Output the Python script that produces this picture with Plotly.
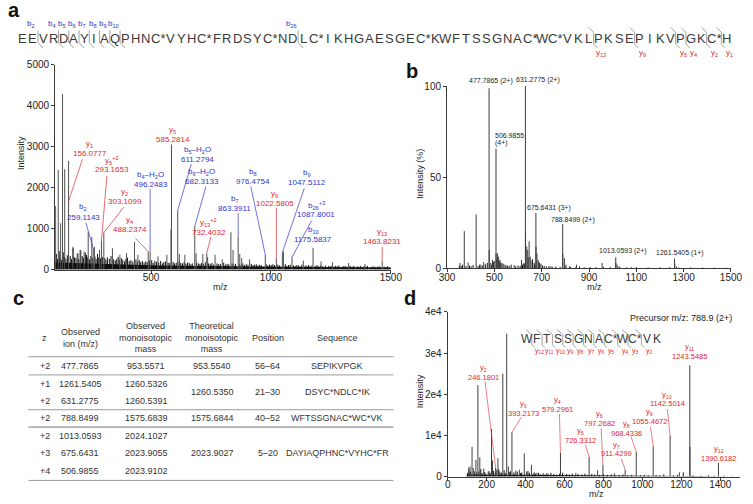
import plotly.graph_objects as go

W, H = 753, 504
FONT = "Liberation Sans, Arial, Helvetica, sans-serif"
RED = "#e3262d"
BLUE = "#3333cc"
INK = "#333333"
AXC = "#3a3a3a"
MARK = "#8c8c8c"

# ======================= DATA =======================
protein_seq = "EEVRDAYIAQPHNC*VYHC*FRDSYC*NDLC*IKHGAESGEC*KWFTSSGNAC*WC*VKLPKSEPIKVPGKC*H"
b_sites = [2, 4, 5, 6, 7, 8, 9, 10, 26]
y_sites = [13, 9, 5, 4, 2, 1]

ion_a_names = ["y<sub>1</sub>", "b<sub>2</sub>", "y<sub>5</sub><sup>+2</sup>", "y<sub>2</sub>",
               "y<sub>4</sub>", "b<sub>4</sub>–H<sub>2</sub>O", "y<sub>5</sub>",
               "b<sub>5</sub>–H<sub>2</sub>O", "b<sub>6</sub>–H<sub>2</sub>O",
               "y<sub>13</sub><sup>+2</sup>", "b<sub>7</sub>", "b<sub>8</sub>", "y<sub>9</sub>",
               "b<sub>9</sub>", "b<sub>26</sub><sup>+3</sup>", "b<sub>10</sub>", "y<sub>13</sub>"]
ion_a_mz = [156.0777, 259.1143, 293.1653, 303.1099, 488.2374, 496.2483, 585.2814, 611.2794,
            682.3133, 732.4032, 863.3911, 976.4754, 1022.5805, 1047.5112, 1087.8001, 1175.5837,
            1463.8231]
ion_a_int = [2650, 520, 700, 900, 440, 430, 3050, 1445, 1055, 400, 790, 360, 280, 420, 300, 530, 215]

peaks_a_mz = [102, 113, 123, 131, 140, 174, 192, 204, 221, 238, 253, 264, 285, 339, 370, 398,
              431, 445, 529, 566, 583, 618, 641, 688, 716, 736, 767, 797, 833, 842, 870, 878,
              911, 1052, 1135, 1209, 1257, 1324, 1392]
peaks_a_int = [1550, 2430, 1130, 4280, 2450, 555, 400, 480, 440, 910, 790, 550, 480, 520, 360, 400,
               675, 360, 320, 360, 980, 380, 360, 400, 380, 300, 360, 250, 910, 480, 380, 280,
               250, 440, 220, 200, 175, 160, 135]

noise_a_mz = [105, 110, 117, 121, 126, 134, 139, 145, 151, 163, 168, 175, 181, 187, 195, 199, 207,
              213, 218, 226, 231, 236, 243, 249, 255, 266, 271, 277, 282, 289, 297, 307, 312, 318,
              326, 333, 344, 351, 357, 363, 369, 376, 382, 389, 395, 402, 409, 416, 424, 437, 443,
              451, 457, 464, 471, 478, 484, 493, 503, 509, 516, 523, 532, 540, 547, 553, 560, 571,
              578, 592, 598, 605, 617, 624, 631, 638, 645, 652, 659, 666, 672, 690, 697, 704, 711,
              719, 726, 740, 747, 754, 761, 775, 782, 789, 803, 810, 817, 824, 838, 845, 852, 869,
              876, 883, 890, 897, 904, 918, 925, 932, 939, 946, 953, 960, 980, 987, 994, 1001, 1008,
              1015, 1029, 1036, 1060, 1066, 1073, 1080, 1094, 1101, 1108, 1115, 1122, 1129, 1143,
              1150, 1157, 1164, 1171, 1185, 1192, 1199, 1206, 1213, 1220, 1227, 1241, 1248, 1255,
              1262, 1269, 1276, 1283, 1297, 1304, 1311, 1318, 1325, 1332, 1339, 1346, 1360, 1367,
              1374, 1381, 1388, 1395, 1402, 1416, 1423, 1430, 1437, 1444, 1451, 1458, 1472, 1479,
              1486, 1493]
noise_a_int = [380, 260, 450, 300, 240, 420, 310, 270, 350, 330, 260, 520, 300, 280, 390, 250, 470,
               330, 280, 410, 360, 300, 250, 330, 280, 320, 260, 380, 300, 270, 310, 280, 240, 300,
               260, 330, 250, 220, 260, 310, 230, 280, 240, 200, 260, 290, 210, 230, 200, 250, 190,
               230, 180, 210, 170, 200, 180, 220, 230, 160, 210, 190, 170, 210, 150, 180, 200, 170,
               160, 190, 150, 170, 200, 160, 150, 180, 140, 170, 160, 130, 150, 170, 150, 140, 160,
               130, 180, 150, 140, 160, 120, 150, 130, 140, 170, 120, 140, 130, 150, 120, 140, 130,
               120, 150, 110, 130, 120, 140, 110, 120, 130, 100, 120, 110, 130, 100, 120, 110, 130,
               110, 120, 100, 130, 90, 110, 120, 100, 90, 110, 100, 80, 120, 100,
               90, 110, 80, 100, 90, 110, 80, 100, 90, 70, 100, 90, 80, 100,
               70, 90, 80, 100, 70, 90, 80, 70, 90, 80, 70, 90, 80, 70,
               90, 60, 80, 70, 90, 60, 70, 80, 60, 70, 80, 60, 70, 60,
               80, 60]
floor_a_mz = [100, 150, 200, 250, 300, 350, 400, 450, 500, 550, 600, 650, 700, 750, 800, 850, 900,
              950, 1000, 1050, 1100, 1150, 1200, 1250, 1300, 1350, 1400, 1450, 1500]
floor_a_int = [170, 160, 150, 140, 135, 125, 120, 110, 105, 100, 95, 92, 90, 86, 82, 80, 78,
               75, 72, 70, 68, 65, 62, 60, 58, 55, 52, 50, 48]

ms1_lab_mz = [477.7865, 631.2775, 506.9855, 675.6431, 788.8499, 1013.0593, 1261.5405]
ms1_lab_z = [2, 2, 4, 3, 2, 2, 1]
ms1_lab_pct = [98.8, 100.0, 65.7, 30.4, 24.3, 6.0, 5.4]
ms1_mz = [355, 373, 389, 423, 443, 455, 478.3, 485, 492, 507.3, 513, 518, 524, 532, 550, 584,
          615, 624, 631.8, 637, 641, 647, 652, 659, 676.0, 680, 685, 691, 711, 739, 789.3, 796,
          803, 817, 847, 955.5, 1013.6, 1019, 1027, 1078, 1262.5, 1270]
ms1_pct = [2.9, 20.4, 3.2, 29.5, 2.0, 3.4, 10.0, 2.9, 4.6, 8.2, 8.2, 6.4, 4.6, 2.9, 1.4, 1.8,
           4.6, 2.9, 20.7, 12.0, 10.0, 14.8, 6.4, 4.3, 12.0, 8.2, 4.6, 2.9, 1.4, 1.1, 8.0, 5.5,
           2.0, 1.1, 2.0, 2.9, 3.0, 2.0, 1.0, 0.7, 2.5, 1.0]
noise_b_mz = [352, 361, 366, 380, 395, 402, 410, 431, 438, 449, 462, 470, 489, 495, 499, 511, 521,
              527, 537, 545, 556, 563, 571, 590, 600, 609, 619, 628, 643, 661, 668, 671, 688, 697,
              704, 720, 731, 745, 760, 778, 800, 822, 845, 860, 880, 905, 930, 960, 990, 1030,
              1060, 1100, 1150, 1200, 1240, 1280, 1330, 1380, 1430, 1480]
noise_b_pct = [1.5, 1.0, 2.0, 1.2, 1.5, 1.0, 1.8, 1.2, 2.0, 1.5, 2.2, 3.0, 2.0, 3.5, 4.0, 5.0, 4.0,
               3.0, 2.5, 2.0, 1.5, 1.2, 2.0, 1.0, 1.5, 1.2, 2.0, 2.5, 6.0, 5.0, 3.0, 2.0, 3.5, 2.5,
               1.5, 1.0, 1.2, 0.8, 1.0, 0.8, 0.9, 0.7, 0.8, 1.0, 0.6, 0.7, 0.6, 0.8, 0.6, 0.8,
               0.5, 0.6, 0.5, 0.5, 0.6, 0.4, 0.5, 0.4, 0.4, 0.3]

tab_header = ["z", "Observed<br>ion (m/z)", "Observed<br>monoisotopic<br>mass",
              "Theoretical<br>monoisotopic<br>mass", "Position", "Sequence"]
tab_z = ["+2", "+1", "+2", "+2", "+2", "+3", "+4"]
tab_obs_ion = ["477.7865", "1261.5405", "631.2775", "788.8499", "1013.0593", "675.6431", "506.9855"]
tab_obs_mono = ["953.5571", "1260.5326", "1260.5391", "1575.6839", "2024.1027", "2023.9055", "2023.9102"]
tab_theo = ["953.5540", "1260.5350", "1575.6844", "2023.9027"]
tab_pos = ["56–64", "21–30", "40–52", "5–20"]
tab_seq = ["SEPIKVPGK", "DSYC*NDLC*IK", "WFTSSGNAC*WC*VK", "DAYIAQPHNC*VYHC*FR"]
tab_groups = [[0], [1, 2], [3], [4, 5, 6]]

peptide_d = "WFTSSGNAC*WC*VK"
ion_d_names = ["y<sub>2</sub>", "y<sub>3</sub>", "y<sub>4</sub>", "y<sub>5</sub>", "y<sub>6</sub>",
               "y<sub>7</sub>", "y<sub>8</sub>", "y<sub>9</sub>", "y<sub>10</sub>", "y<sub>11</sub>",
               "y<sub>12</sub>"]
ion_d_mz = [246.1801, 393.2173, 579.2961, 726.3312, 797.2682, 911.4299, 968.4336, 1055.4672,
            1142.5014, 1243.5485, 1390.6182]
ion_d_int = [2200, 5610, 5770, 4800, 2850, 1700, 6000, 7350, 9960, 27000, 3300]
ms2_mz = [108, 115, 125, 131.5, 145, 155, 165, 185, 208, 225, 230, 251.5, 258, 283, 303, 311.5,
          330, 350, 368, 405, 430, 458, 508, 658, 770, 856, 1190, 1244.5]
ms2_int = [2200, 2450, 7190, 2060, 4030, 22200, 4660, 1900, 1200, 11550, 3900, 1660, 4430, 24970,
           34700, 2450, 10750, 1430, 1660, 1200, 2850, 900, 800, 900, 1500, 800, 1000, 7200]
noise_d_mz = [102, 110, 118, 136, 149, 160, 170, 176, 190, 196, 212, 218, 236, 245, 262, 268, 276,
              290, 296, 316, 322, 340, 346, 357, 374, 380, 395, 412, 420, 438, 444, 450, 466, 475,
              490, 500, 515, 530, 545, 560, 575, 590, 610, 625, 640, 655, 670, 690, 705, 720, 740,
              755, 780, 800, 820, 840, 860, 880, 900, 925, 945, 990, 1010, 1030, 1070, 1090, 1110,
              1160, 1180, 1210, 1260, 1300, 1340, 1370, 1420, 1460]
noise_d_int = [900, 1500, 1100, 1300, 1000, 1200, 1800, 900, 1100, 700, 1300, 900, 1400, 1000, 1800,
               1200, 900, 1500, 800, 1100, 1300, 1000, 600, 1200, 800, 1000, 700, 1300, 900, 600,
               1000, 700, 900, 600, 800, 500, 700, 900, 600, 500, 700, 900, 600, 500, 700, 400,
               600, 500, 700, 400, 600, 500, 400, 500, 400, 500, 300, 400, 500, 300, 400, 300, 400,
               300, 400, 300, 500, 300, 400, 1000, 300, 200, 300, 200, 200, 150]
floor_d_mz = [95, 100, 200, 300, 400, 500, 600, 700, 800, 900, 1000, 1100, 1200, 1300, 1400, 1450]
floor_d_int = [0, 500, 450, 400, 350, 320, 280, 240, 200, 170, 150, 130, 110, 100, 80, 0]
precursor_text = "Precursor m/z: 788.9 (2+)"


def px(x):
    return x / W


def py(y):
    return 1 - y / H


shapes = []
ann = []


def seg(x0, y0, x1, y1, color=MARK, w=0.8, ref=("paper", "paper")):
    if ref[0] == "paper":
        x0, x1 = px(x0), px(x1)
    if ref[1] == "paper":
        y0, y1 = py(y0), py(y1)
    shapes.append(dict(type="line", xref=ref[0], yref=ref[1], x0=x0, y0=y0, x1=x1, y1=y1,
                       line=dict(color=color, width=w), layer="above"))


def text(x, y, s, size, color=INK, ref=("paper", "paper"), xanchor="center",
         yanchor="middle", yshift=0, angle=0):
    if ref[0] == "paper":
        x = px(x)
    if ref[1] == "paper":
        y = py(y)
    ann.append(dict(x=x, y=y, xref=ref[0], yref=ref[1], text=s, showarrow=False,
                    xanchor=xanchor, yanchor=yanchor, yshift=yshift, textangle=angle,
                    borderpad=0, font=dict(family=FONT, size=size, color=color)))


def residues(seq):
    out, i = [], 0
    while i < len(seq):
        if i + 1 < len(seq) and seq[i + 1] == "*":
            out.append(seq[i:i + 2])
            i += 2
        else:
            out.append(seq[i])
            i += 1
    return out


def residue_positions(res, x0, unit, wide):
    centers, bounds, pos = [], [], 0.0
    for r in res:
        w = wide if r.endswith("*") else 1.0
        centers.append(x0 + (pos + w / 2 - 0.5) * unit)
        pos += w
        bounds.append(x0 + (pos - 0.5) * unit)
    return centers, bounds


def sticks(mz, inten):
    xs, ys = [], []
    for m, v in zip(mz, inten):
        xs += [m, m, None]
        ys += [0, v, None]
    return xs, ys


def ion_color(name):
    return RED if name.startswith("y") else BLUE


fig = go.Figure()

# ======================= PANEL a =======================
fig.add_trace(go.Scatter(x=floor_a_mz, y=floor_a_int, mode="lines", fill="tozeroy",
                         fillcolor="#111111", line=dict(width=0, color="#111111"),
                         hoverinfo="skip", xaxis="x", yaxis="y"))
xs, ys = sticks(noise_a_mz, noise_a_int)
fig.add_trace(go.Scatter(x=xs, y=ys, mode="lines", line=dict(color="#111111", width=1),
                         hoverinfo="skip", xaxis="x", yaxis="y"))
xs, ys = sticks(peaks_a_mz + ion_a_mz, peaks_a_int + ion_a_int)
fig.add_trace(go.Scatter(x=xs, y=ys, mode="lines", line=dict(color="#505050", width=1),
                         hoverinfo="skip", xaxis="x", yaxis="y"))

lab_a = [
    (244, 2936, (214, 2690), 1670),
    (218, 1397, (228, 1143), None),
    (338, 2548, (316, 2286), None),
    (391, 1786, (387, 1524), None),
    (411, 1102, (435, 762), None),
    (499, 2183, (496.2, 1964), None),
    (590, 3290, None, None),
    (692, 2810, (668, 2579), None),
    (711, 2255, (729, 2024), None),
    (740, 1024, (749, 793), None),
    (850, 1600, (863.4, 1381), None),
    (925, 2255, (916, 2024), None),
    (1016, 1719, (1022.6, 1512), None),
    (1149, 2243, (1139, 1983), None),
    (1189, 1457, (1169, 1190), None),
    (1175.6, 840, None, None),
    (1463.8, 802, (1463.8, 555), None),
]
for name, mz, inten, (tx, ty, start, end_int) in zip(ion_a_names, ion_a_mz, ion_a_int, lab_a):
    c = ion_color(name)
    text(tx, ty, name, 8, c, ref=("x", "y"), yshift=4.8)
    text(tx, ty, f"{mz:.4f}", 8, c, ref=("x", "y"), yshift=-4.8)
    if start is not None:
        seg(start[0], start[1], mz, end_int if end_int else inten, color=c, w=0.7, ref=("x", "y"))

res_a = residues(protein_seq)
cen_a, bnd_a = residue_positions(res_a, 15, 10.54, 1.45)
for r, cx in zip(res_a, cen_a):
    text(cx, 33, r, 13, "#3a3a3a")
N = len(res_a)
for n in b_sites:
    b = bnd_a[n - 1]
    seg(b, 25, b, 37.5)
    seg(b, 37.5, b + 5, 43)
    text(b - 7, 18, f"b<sub>{n}</sub>", 8, BLUE)
for n in y_sites:
    b = bnd_a[N - n - 1]
    seg(b - 5, 22, b, 27)
    seg(b, 27, b, 39)
    seg(b, 39, b + 4, 43)
    text(b + 8, 48, f"y<sub>{n}</sub>", 8, RED)

# ======================= PANEL b =======================
xs, ys = sticks(noise_b_mz, noise_b_pct)
fig.add_trace(go.Scatter(x=xs, y=ys, mode="lines", line=dict(color="#111111", width=1),
                         hoverinfo="skip", xaxis="x2", yaxis="y2"))
xs, ys = sticks(ms1_mz + ms1_lab_mz, ms1_pct + ms1_lab_pct)
fig.add_trace(go.Scatter(x=xs, y=ys, mode="lines", line=dict(color="#3c3c3c", width=1),
                         hoverinfo="skip", xaxis="x2", yaxis="y2"))
lab_b = [(484, 100, "center", 5.3), (682.6, 100, "center", 5.8), (497.5, 70.9, "left", 0),
         (732, 33.2, "center", 0), (832.7, 26.5, "center", 0), (1043, 9.5, "center", 0),
         (1284.5, 8.2, "center", 0)]
for mz, z, (tx, ty, anc, sh) in zip(ms1_lab_mz, ms1_lab_z, lab_b):
    if z == 4:
        text(tx, ty, f"{mz:.4f}", 7, "#222", ref=("x2", "y2"), xanchor=anc, yshift=3.7)
        text(tx, ty, f"({z}+)", 7, "#222", ref=("x2", "y2"), xanchor=anc, yshift=-3.7)
    else:
        text(tx, ty, f"{mz:.4f} ({z}+)", 7, "#222", ref=("x2", "y2"), xanchor=anc, yshift=sh)

# ======================= PANEL c (table) =======================
col_x = [37.7, 74, 142, 210, 266.7, 338]
for cx, h in zip(col_x, tab_header):
    text(cx, 340, h, 9, INK)
row_y = [369 + i * 17.83 for i in range(len(tab_z))]
for i, yv in enumerate(row_y):
    text(col_x[0], yv, tab_z[i], 9, INK)
    text(col_x[1], yv, tab_obs_ion[i], 9, INK)
    text(col_x[2], yv, tab_obs_mono[i], 9, INK)
for g, rows in enumerate(tab_groups):
    yc = sum(row_y[r] for r in rows) / len(rows)
    text(col_x[3], yc, tab_theo[g], 9, INK)
    text(col_x[4], yc, tab_pos[g], 9, INK)
    text(col_x[5], yc, tab_seq[g], 9, INK)
seg(21, 359.3, 396, 359.3, color="#9a9a9a", w=1)
for g, rows in enumerate(tab_groups[:-1]):
    ysep = (row_y[rows[-1]] + row_y[rows[-1] + 1]) / 2
    seg(21, ysep, 396, ysep, color="#b0b0b0" if g == 2 else "#9a9a9a", w=1.6 if g == 2 else 1)
seg(21, row_y[-1] + 10, 396, row_y[-1] + 10, color="#9a9a9a", w=1)

# ======================= PANEL d =======================
fig.add_trace(go.Scatter(x=floor_d_mz, y=floor_d_int, mode="lines", fill="tozeroy",
                         fillcolor="#111111", line=dict(width=0, color="#111111"),
                         hoverinfo="skip", xaxis="x3", yaxis="y3"))
xs, ys = sticks(noise_d_mz, noise_d_int)
fig.add_trace(go.Scatter(x=xs, y=ys, mode="lines", line=dict(color="#111111", width=1),
                         hoverinfo="skip", xaxis="x3", yaxis="y3"))
xs, ys = sticks(ms2_mz + ion_d_mz, ms2_int + ion_d_int)
fig.add_trace(go.Scatter(x=xs, y=ys, mode="lines", line=dict(color="#404040", width=1),
                         hoverinfo="skip", xaxis="x3", yaxis="y3"))
lab_d = [
    (183, 25250, (191.5, 23100), (246.18, 2200)),
    (391.5, 16400, (378, 14400), (330, 10750)),
    (566.5, 17350, (574, 15200), None),
    (683, 9890, (708, 7700), None),
    (778, 13990, (788, 11700), None),
    (866.5, 6590, (891.5, 4300), None),
    (916.5, 11620, (941.5, 9700), None),
    (1036.5, 14510, (1041.5, 12100), None),
    (1128, 18780, (1128, 16400), None),
    (1241.5, 30300, None, None),
    (1391, 5600, None, None),
]
for name, mz, inten, (tx, ty, start, end) in zip(ion_d_names, ion_d_mz, ion_d_int, lab_d):
    text(tx, ty, name, 7.5, RED, ref=("x3", "y3"), yshift=4.6)
    text(tx, ty, f"{mz:.4f}", 7.5, RED, ref=("x3", "y3"), yshift=-4.6)
    if start is not None:
        ex, ey = end if end else (mz, inten)
        seg(start[0], start[1], ex, ey, color=RED, w=0.6, ref=("x3", "y3"))

res_d = residues(peptide_d)
cen_d, bnd_d = residue_positions(res_d, 532.7, 10.63, 1.3)
for r, cx in zip(res_d, cen_d):
    text(cx, 340.7, r, 12, "#3a3a3a")
Nd = len(res_d)
for k in range(1, Nd - 1):
    b = bnd_d[k - 1]
    n = Nd - k
    seg(b - 6, 331.5, b, 336.5)
    seg(b, 336.5, b, 347)
    seg(b, 347, b + 3, 350)
    text(b + 8, 353, f"y<sub>{n}</sub>", 7, RED)
text(745, 319.3, precursor_text, 9, "#222", xanchor="right")

# ======================= titles & panel letters =======================
text(14, 151, "Intensity", 9, "#222", angle=-90)
text(218.3, 287.5, "m/z", 9, "#222")
text(423, 172, "Intensity (%)", 9, "#222", angle=-90)
text(603, 287.5, "m/z", 9, "#222")
text(423, 395, "Intensity", 9, "#222", angle=-90)
text(605, 499.5, "m/z", 9, "#222")
text(6.5, 4, "<b>a</b>", 20, "#111")
text(415, 67, "<b>b</b>", 20, "#111")
text(10.5, 299.5, "<b>c</b>", 20, "#111")
text(413, 299.5, "<b>d</b>", 20, "#111")


def axis(**kw):
    d = dict(showgrid=False, zeroline=False, showline=True, linecolor=AXC, linewidth=1,
             ticks="outside", ticklen=3, tickwidth=1, tickcolor=AXC,
             tickfont=dict(family=FONT, size=10, color="#222"), fixedrange=True)
    d.update(kw)
    return d


fig.update_layout(
    width=W, height=H, autosize=False,
    margin=dict(l=0, r=0, t=0, b=0),
    paper_bgcolor="white", plot_bgcolor="rgba(0,0,0,0)",
    showlegend=False,
    xaxis=axis(domain=[48.4 / W, 393.3 / W], range=[100, 1500], tickvals=[500, 1000, 1500],
               anchor="y", ticklabelstandoff=-5),
    yaxis=axis(domain=[(H - 270) / H, (H - 60) / H], range=[0, 5000],
               tickvals=[0, 1000, 2000, 3000, 4000, 5000], anchor="x"),
    xaxis2=axis(domain=[451 / W, 742.7 / W], range=[300, 1500],
                tickvals=[300, 500, 700, 900, 1100, 1300, 1500], anchor="y2",
                ticklabelstandoff=-3),
    yaxis2=axis(domain=[(H - 268.7) / H, (H - 82) / H], range=[0, 100], tickvals=[0, 50, 100],
                anchor="x2"),
    xaxis3=axis(domain=[451.7 / W, 751.7 / W], range=[0, 1500],
                tickvals=[0, 200, 400, 600, 800, 1000, 1200, 1400], anchor="y3",
                ticklabelstandoff=-5),
    yaxis3=axis(domain=[(H - 482) / H, (H - 313.3) / H], range=[0, 40000],
                tickvals=[0, 10000, 20000, 30000, 40000],
                ticktext=["0", "1e4", "2e4", "3e4", "4e4"], anchor="x3"),
    shapes=shapes,
    annotations=ann,
)

fig.write_html("out.html", config={"displayModeBar": False},
               post_script="document.documentElement.style.margin='0';"
                           "document.body.style.margin='0';"
                           "document.body.style.overflow='hidden';"
                           "document.documentElement.style.overflow='hidden';")
